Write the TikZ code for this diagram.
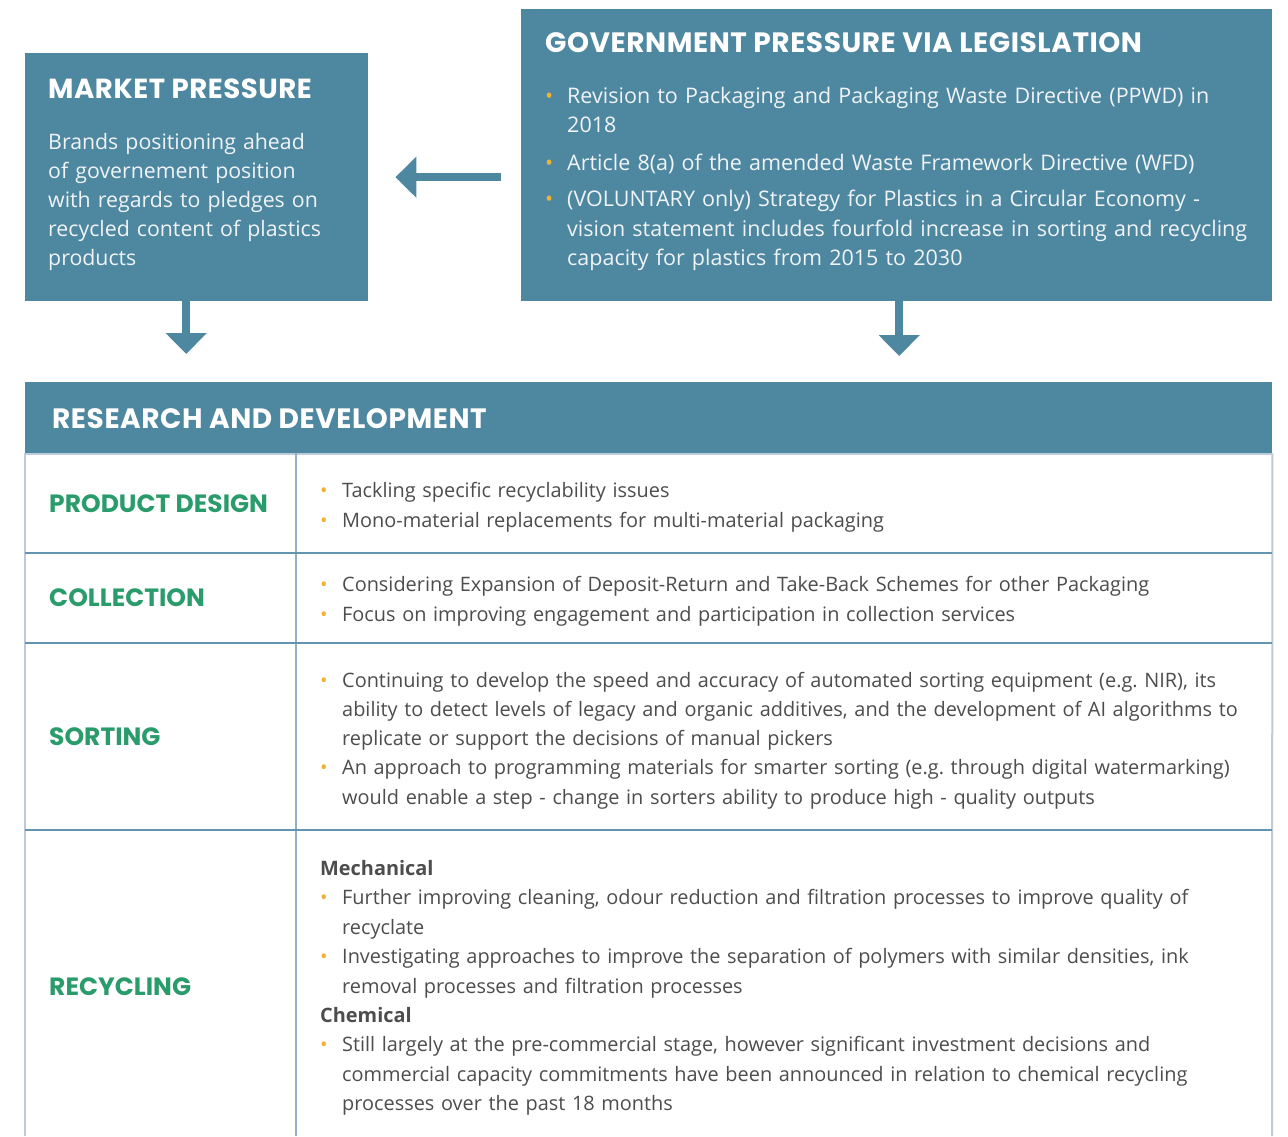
\documentclass[tikz,border=0pt]{standalone}
\usepackage{fontspec}
\setmainfont{Open Sans}
\newfontfamily\headfont{Poppins}[LetterSpace=2]
\newfontfamily\lblfont{Poppins}
\usetikzlibrary{arrows.meta}
\frenchspacing
\definecolor{boxc}{HTML}{4E87A0}
\definecolor{greenc}{HTML}{2A9C6B}
\definecolor{bulc}{HTML}{F2B134}
\definecolor{txtc}{HTML}{4D4D4D}
\definecolor{linec}{HTML}{6394B0}
\definecolor{edgec}{HTML}{BCCBD9}
\definecolor{divc}{HTML}{93B2C8}
\definecolor{boxtxt}{HTML}{F0F4F7}
\newcommand\bitem[1]{\hangindent=22pt\hangafter=1\makebox[22pt][l]{\textcolor{bulc}{\textbullet}}#1\par}
\tikzset{
  panel/.style={fill=boxc, draw=none, inner sep=0pt, anchor=north west},
  headtxt/.style={anchor=base west, inner sep=0pt, text=white, font=\headfont\bfseries\fontsize{28}{34}\selectfont},
  lbl/.style={anchor=base west, inner sep=0pt, text=greenc, font=\lblfont\bfseries\fontsize{25}{30}\selectfont},
  bodytxt/.style={anchor=base west, inner sep=0pt, align=left, text width=1100pt, text=txtc, font=\fontsize{19.9}{29.4}\selectfont},
  boxbody/.style={anchor=base west, inner sep=0pt, align=left, text width=760pt, text=boxtxt, font=\fontsize{21.5}{29.4}\selectfont},
  arr/.style={-{Triangle[width=40pt,length=21pt]}, line width=8pt, draw=boxc},
  hline/.style={draw=linec, line width=1.5pt},
}
\begin{document}
\begin{tikzpicture}[x=1pt,y=-1pt]
\useasboundingbox[fill=white] (0,0) rectangle (1288,1136);

% panels
\node[panel, minimum width=343pt, minimum height=248pt] (market) at (25,53) {};
\node[panel, minimum width=751pt, minimum height=292pt] (gov) at (521,9) {};
\node[panel, minimum width=1247pt, minimum height=71pt] (rd) at (25,382) {};

% headings
\node[headtxt, font=\headfont\bfseries\fontsize{27.6}{34}\selectfont] (mh) at (48,98.3) {MARKET PRESSURE};
\node[headtxt] (gh) at (545,52.3) {GOVERNMENT PRESSURE VIA LEGISLATION};
\node[headtxt] (rh) at (52,428.3) {RESEARCH AND DEVELOPMENT};

% market body
\node[boxbody, text width=330pt, font=\fontsize{21.3}{29.1}\selectfont] (mb) at (48,149.3)
 {Brands positioning ahead\newline of governement position\newline with regards to pledges on\newline recycled content of plastics\newline products};

% government bullets
\node[boxbody] (g1) at (545,103.5) {\bitem{Revision to Packaging and Packaging Waste Directive (PPWD) in\newline 2018}};
\node[boxbody] (g2) at (545,170) {\bitem{Article 8(a) of the amended Waste Framework Directive (WFD)}};
\node[boxbody] (g3) at (545,206.7) {\bitem{(VOLUNTARY only) Strategy for Plastics in a Circular Economy -\newline vision statement includes fourfold increase in sorting and recycling\newline capacity for plastics from 2015 to 2030}};

% arrows
\draw[arr, shorten <=20pt, shorten >=27pt] (gov.west |- market.east) -- (market.east);
\path (market.south) ++(-10.5,0) coordinate (d1);
\path (gov.south) ++(2.5,0) coordinate (d2);
\draw[arr, shorten >=28pt] (d1) -- (d1 |- rd.north);
\draw[arr, shorten >=26pt] (d2) -- (d2 |- rd.north);

% table grid
\draw[draw=edgec, line width=2pt] (rd.south west) -- (25,1136);
\draw[draw=edgec, line width=2pt] (rd.south east) -- (1272,1136);
\draw[draw=edgec, line width=1.5pt] (25,454) -- (1272,454);
\draw[draw=divc, line width=1.5pt] (296,453) -- (296,1136);
\draw[hline] (25,553) -- (1272,553);
\draw[hline] (25,643) -- (1272,643);
\draw[hline] (25,830) -- (1272,830);

% row labels
\node[lbl] (l1) at (49,512.7) {PRODUCT DESIGN};
\node[lbl] (l2) at (49,606.7) {COLLECTION};
\node[lbl] (l3) at (49,745.5) {SORTING};
\node[lbl] (l4) at (49,995) {RECYCLING};

% row contents
\node[bodytxt] (c1) at (320,497.7) {\bitem{Tackling specific recyclability issues}\bitem{Mono-material replacements for multi-material packaging}};
\node[bodytxt] (c2) at (320,591.7) {\bitem{Considering Expansion of Deposit-Return and Take-Back Schemes for other Packaging}\bitem{Focus on improving engagement and participation in collection services}};
\node[bodytxt, font=\fontsize{19.9}{29.2}\selectfont] (c3) at (320,687.3) {\bitem{Continuing to develop the speed and accuracy of automated sorting equipment (e.g. NIR), its\newline ability to detect levels of legacy and organic additives, and the development of AI algorithms to\newline replicate or support the decisions of manual pickers}\bitem{An approach to programming materials for smarter sorting (e.g. through digital watermarking)\newline would enable a step - change in sorters ability to produce high - quality outputs}};
\node[bodytxt] (c4) at (320,875.5) {{\bfseries Mechanical}\par\bitem{Further improving cleaning, odour reduction and filtration processes to improve quality of\newline recyclate}\bitem{Investigating approaches to improve the separation of polymers with similar densities, ink\newline removal processes and filtration processes}{\bfseries Chemical}\par\bitem{Still largely at the pre-commercial stage, however significant investment decisions and\newline commercial capacity commitments have been announced in relation to chemical recycling\newline processes over the past 18 months}};
\end{tikzpicture}
\end{document}
